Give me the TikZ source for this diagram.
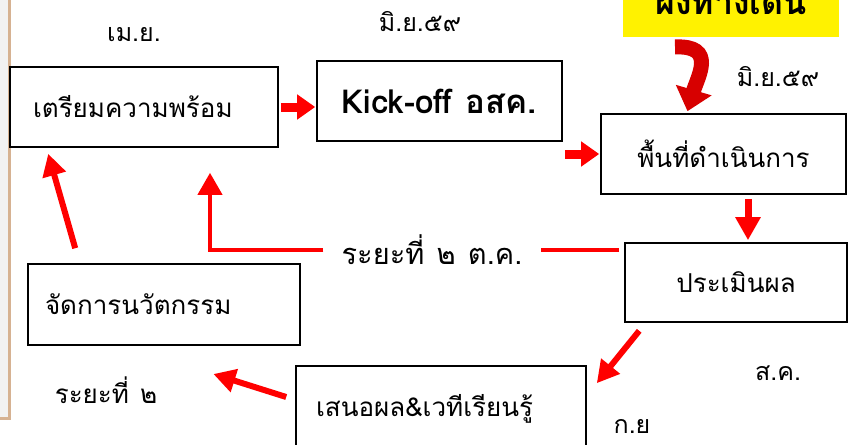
\documentclass[tikz,border=0pt]{standalone}
\usepackage{fontspec}
\setmainfont[Script=Thai, WordSpace=1.25]{Loma}
\usepackage{xcolor}
\definecolor{arrowred}{RGB}{255,0,0}
\definecolor{curvered}{RGB}{215,0,0}
\definecolor{sidegrey}{RGB}{242,242,242}
\definecolor{sidetan}{RGB}{214,178,146}
\usepackage{tikz}
\usetikzlibrary{calc}
\usetikzlibrary{arrows.meta}
\newcommand{\thaisize}{\fontsize{26}{30}\selectfont}
\newcommand{\datesize}{\fontsize{25}{30}\selectfont}
\tikzset{
    common/.style={draw, line width=1.6pt, fill=white, inner sep=0pt, font=\thaisize},
    stepbox/.style={common, minimum width=#1, minimum height=80pt},
    leftbox/.style={common, text width=#1, align=left, minimum height=80pt},
    datelabel/.style={font=\datesize, inner sep=1pt},
    titlebox/.style={fill=yellow, anchor=south, minimum width=216pt, inner ysep=22pt, font=\fontsize{34}{40}\selectfont\bfseries},
    blockarrow/.style={draw=arrowred, line width=9pt, -{Triangle[length=18pt, width=24pt]}},
    slimarrow/.style={draw=arrowred, line width=6pt, -{Triangle[length=22pt, width=23pt]}},
    loopline/.style={draw=arrowred, line width=4pt},
    curvearrow/.style={draw=curvered, line width=15pt, -{Triangle[length=22pt, width=36pt]}}
}

\begin{document}
\begin{tikzpicture}[x=1pt,y=-1pt]
    \useasboundingbox (0,0) rectangle (850,444);
    \clip (0,0) rectangle (850,444);
    \fill[sidegrey] (0,0) rectangle (8,417);
    \draw[sidetan, line width=3pt] (9,0) -- (9,418) -- (0,418);

    \path
        node[titlebox] (title) at (731,37) {ผังทางเดิน}
        node[leftbox=222pt, inner xsep=23pt] (prep) at (144,107) {เตรียมความพร้อม}
        node[stepbox=245pt, font=\fontsize{33}{38}\selectfont\bfseries] (kick) at (439.5,101) {Kick-off อสค.}
        node[stepbox=245pt] (area) at (723.5,154) {พื้นที่ดำเนินการ}
        node[stepbox=222pt, minimum height=79pt] (eval) at (736,282.5) {ประเมินผล}
        node[leftbox=238pt, inner xsep=17pt, minimum height=81pt] (innov) at (164,304.5) {จัดการนวัตกรรม}
        node[leftbox=250pt, inner xsep=20pt, minimum height=86pt] (show) at (441,409) {เสนอผล\&เวทีเรียนรู้};

    \path
        node[datelabel] (apr) at (134,35) {เม.ย.}
        node[datelabel] (jun1) at (420,22) {มิ.ย.๕๙}
        node[datelabel] (jun2) at (778,77) {มิ.ย.๕๙}
        node[datelabel] (aug) at (778,373) {ส.ค.}
        node[datelabel] (sep) at (632,426) {ก.ย}
        node[datelabel, font=\thaisize] (phase2) at (106,390) {ระยะที่ ๒}
        node[datelabel, font=\fontsize{29}{32}\selectfont, inner xsep=18pt] (oct) at (432,250) {ระยะที่ ๒ ต.ค.};

    \coordinate (bend) at ($(title.south)+(-56,10)$);
    \draw[curvearrow] (bend) .. controls +(42,-2) and +(10,-34) .. ($(area.north)+(-36,-2)$);

    \draw[blockarrow] ([xshift=2pt]prep.east) -- ([xshift=-1pt]prep.east -| kick.west);
    \draw[blockarrow] ([xshift=2pt]kick.east |- area.west) -- ([xshift=-1pt]area.west);
    \draw[blockarrow, line width=7pt, -{Triangle[length=23pt, width=24pt]}]
        ([xshift=24.5pt, yshift=-4pt]area.south) -- ([xshift=24.5pt, yshift=2pt]area.south |- eval.north);

    \draw[loopline] ([xshift=-5pt]eval.west |- oct.east) -- (oct.east);
    \draw[loopline, -{Triangle[length=22pt, width=24pt]}] (oct.west) -| ($(prep.south)+(66,25)$);

    \draw[slimarrow] ($(innov.north west)+(48,-15)$) -- ($(prep.south west)+(39,6)$);
    \draw[slimarrow] ($(eval.south west)+(15,8)$) -- ($(show.north east)+(10,18)$);
    \draw[slimarrow] ($(show.west)+(-9,-12)$) -- ($(phase2.east)+(55,-16)$);
\end{tikzpicture}
\end{document}
